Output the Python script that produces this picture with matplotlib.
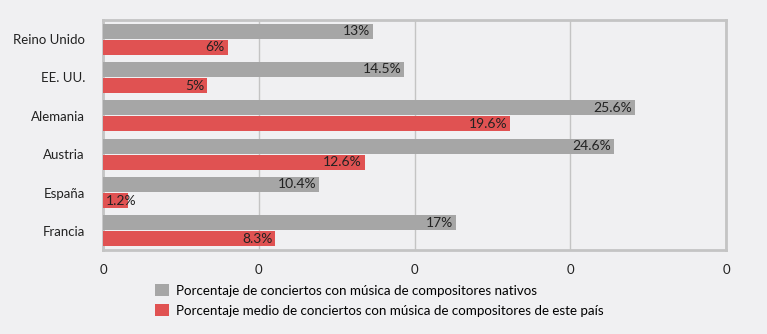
import numpy as np
import matplotlib.pyplot as plt

plt.rcParams['font.family'] = ['Lato', 'DejaVu Sans']

countries = ['Reino Unido', 'EE. UU.', 'Alemania', 'Austria', 'España', 'Francia']
native = [13, 14.5, 25.6, 24.6, 10.4, 17]
average = [6, 5, 19.6, 12.6, 1.2, 8.3]
native_labels = ['13%', '14.5%', '25.6%', '24.6%', '10.4%', '17%']
average_labels = ['6%', '5%', '19.6%', '12.6%', '1.2%', '8.3%']
xticks = [0, 7.5, 15, 22.5, 30]
xtick_labels = ['0', '0', '0', '0', '0']
legend_labels = ['Porcentaje de conciertos con música de compositores nativos',
                 'Porcentaje medio de conciertos con música de compositores de este país']

bg = '#f0f0f2'
gray = '#a6a6a6'
red = '#e05252'
border = '#c4c4c4'

fig = plt.figure(figsize=(7.67, 3.34), dpi=100, facecolor=bg)
ax = fig.add_axes([103 / 767, 1 - 250 / 334, 623 / 767, 230 / 334])
ax.set_facecolor(bg)

y = np.arange(len(countries))
h = 0.39
off = 0.21
b1 = ax.barh(y - off, native, height=h, color=gray, zorder=3, label=legend_labels[0])
b2 = ax.barh(y + off, average, height=h, color=red, zorder=3, label=legend_labels[1])

for bars, labels in [(b1, native_labels), (b2, average_labels)]:
    for rect, lab in zip(bars, labels):
        yc = rect.get_y() + rect.get_height() / 2
        if rect.get_width() < 3:
            # label doesn't fit: start it at the left edge of the bar
            ax.annotate(lab, (0, yc), xytext=(2, 0), textcoords='offset points',
                        ha='left', va='center', fontsize=10, color='#222222', zorder=4)
        else:
            ax.annotate(lab, (rect.get_width(), yc), xytext=(-2, 0), textcoords='offset points',
                        ha='right', va='center', fontsize=10, color='#222222', zorder=4)

ax.set_xlim(0, 30)
ax.set_ylim(len(countries) - 0.5, -0.5)
ax.set_xticks(xticks)
ax.set_xticklabels(xtick_labels)
ax.set_yticks(y)
ax.set_yticklabels(countries)
ax.tick_params(axis='both', length=0, labelsize=9.5, colors='#222222')
ax.tick_params(axis='y', pad=13)
ax.tick_params(axis='x', pad=10)
ax.grid(axis='x', color=border, linewidth=1, zorder=0)
for s in ax.spines.values():
    s.set_color(border)
    s.set_linewidth(2)

fig.legend(handles=[b1, b2], loc='upper left', bbox_to_anchor=(155 / 767, 1 - 284 / 334),
           frameon=False, fontsize=9.6, handlelength=1.05, handleheight=1.05,
           handletextpad=0.55, labelspacing=0.55, borderaxespad=0, borderpad=0)

fig.savefig('out.png', dpi=100, facecolor=bg)
